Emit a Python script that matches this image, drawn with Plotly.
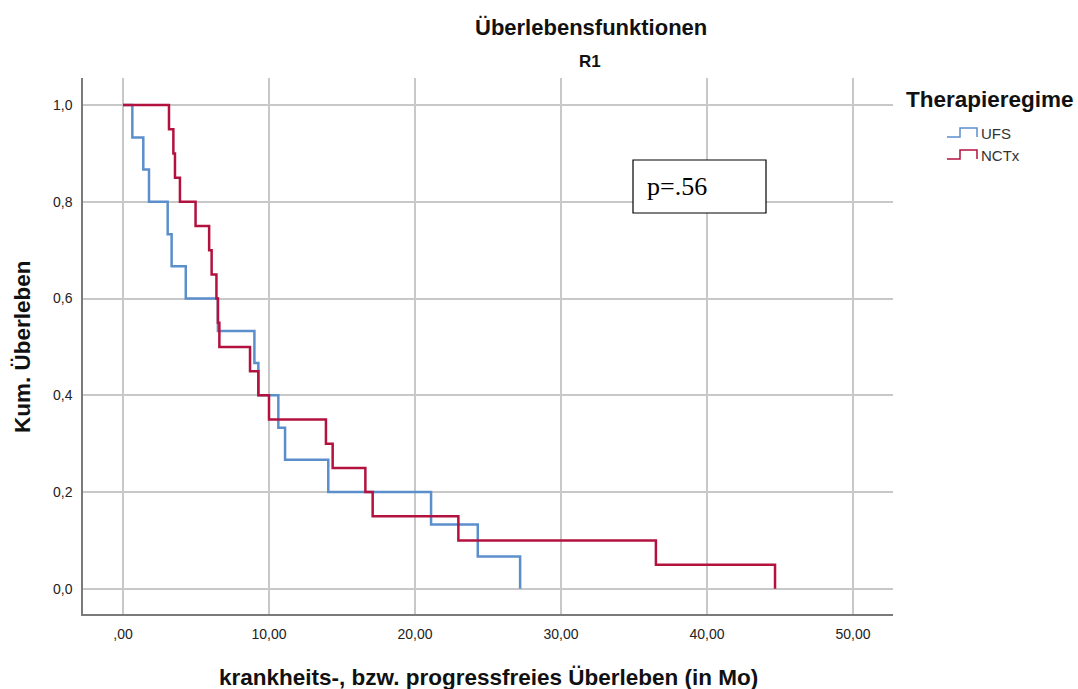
import plotly.graph_objects as go

# Kaplan-Meier estimates per treatment group (time in months, cumulative survival)
ufs_time = [0.0, 0.64, 1.39, 1.78, 3.06, 3.33, 4.3, 6.5, 9.0, 9.27, 10.64, 11.1, 14.06, 21.1, 24.3, 27.2]
ufs_surv = [1.0, 0.933, 0.867, 0.8, 0.733, 0.667, 0.6, 0.533, 0.467, 0.4, 0.333, 0.267, 0.2, 0.133, 0.067, 0.0]

nctx_time = [0.0, 3.15, 3.45, 3.56, 3.9, 4.97, 5.9, 6.07, 6.4, 6.5, 6.6, 8.7, 9.27, 10.0, 13.9, 14.36,
             16.6, 17.1, 22.97, 36.5, 44.66]
nctx_surv = [1.0, 0.95, 0.9, 0.85, 0.8, 0.75, 0.7, 0.65, 0.6, 0.55, 0.5, 0.45, 0.4, 0.35, 0.3, 0.25,
             0.2, 0.15, 0.1, 0.05, 0.0]

x_ticks = [0, 10, 20, 30, 40, 50]
x_ticklabels = [",00", "10,00", "20,00", "30,00", "40,00", "50,00"]
y_ticks = [0.0, 0.2, 0.4, 0.6, 0.8, 1.0]
y_ticklabels = ["0,0", "0,2", "0,4", "0,6", "0,8", "1,0"]

groups = ["UFS", "NCTx"]
colors = ["#5b8fcb", "#b3123f"]
p_text = "p=.56"

W, H = 1078, 689
L, R, T, B = 83, 185, 78, 75
PW, PH = W - L - R, H - T - B


def px(x):
    return (x - L) / PW


def py(y):
    return (H - B - y) / PH


SANS = "Liberation Sans, Arial, sans-serif"

fig = go.Figure()
fig.add_trace(go.Scatter(x=ufs_time, y=ufs_surv, mode="lines", line=dict(shape="hv", color=colors[0], width=2.5),
                         name=groups[0], showlegend=False))
fig.add_trace(go.Scatter(x=nctx_time, y=nctx_surv, mode="lines", line=dict(shape="hv", color=colors[1], width=2.5),
                         name=groups[1], showlegend=False))

fig.update_xaxes(range=[-2.74, 52.74], tickvals=x_ticks, ticktext=x_ticklabels, showgrid=True,
                 gridcolor="#c8c8c8", gridwidth=1.5, zeroline=False, showline=True, linecolor="#7a7a7a",
                 linewidth=1.5, ticks="", ticklabelstandoff=6,
                 tickfont=dict(family=SANS, size=14, color="#222"))
fig.update_yaxes(range=[-0.052, 1.056], tickvals=y_ticks, ticktext=y_ticklabels, showgrid=True,
                 gridcolor="#c8c8c8", gridwidth=1.5, zeroline=False, showline=True, linecolor="#7a7a7a",
                 linewidth=1.5, ticks="", ticklabelstandoff=6,
                 tickfont=dict(family=SANS, size=14, color="#222"))

annotations = [
    dict(text="<b>Überlebensfunktionen</b>", x=px(591), y=py(28), font=dict(family=SANS, size=22, color="#111"),
         xanchor="center", yanchor="middle"),
    dict(text="<b>R1</b>", x=px(590), y=py(62), font=dict(family=SANS, size=17, color="#111"),
         xanchor="center", yanchor="middle"),
    dict(text="<b>Kum. Überleben</b>", x=px(22), y=py(347), textangle=-90,
         font=dict(family=SANS, size=22.5, color="#111"), xanchor="center", yanchor="middle"),
    dict(text="<b>krankheits-, bzw. progressfreies Überleben (in Mo)</b>", x=px(488), y=py(677),
         font=dict(family=SANS, size=22.5, color="#111"), xanchor="center", yanchor="middle"),
    dict(text="<b>Therapieregime</b>", x=px(904), y=py(100), font=dict(family=SANS, size=22.5, color="#111"),
         xanchor="left", yanchor="middle"),
    dict(text=groups[0], x=px(979), y=py(133), font=dict(family=SANS, size=15, color="#333"),
         xanchor="left", yanchor="middle"),
    dict(text=groups[1], x=px(979), y=py(155), font=dict(family=SANS, size=15, color="#333"),
         xanchor="left", yanchor="middle"),
    dict(text=p_text, x=px(645), y=py(187), font=dict(family="Liberation Serif, Times New Roman, serif",
                                                         size=26, color="#000"),
         xanchor="left", yanchor="middle"),
]
for a in annotations:
    a.update(xref="paper", yref="paper", showarrow=False)

shapes = [
    dict(type="rect", xref="paper", yref="paper", x0=px(633), x1=px(766), y0=py(213), y1=py(160),
         line=dict(color="#000", width=1.2), fillcolor="white", layer="above"),
]
# small step icons next to legend labels
for i, yc in enumerate([133, 155]):
    lo, hi = yc + 4, yc - 5
    path = (f"M {px(947)},{py(lo)} L {px(960)},{py(lo)} L {px(960)},{py(hi)} "
            f"L {px(977)},{py(hi)} L {px(977)},{py(lo)}")
    shapes.append(dict(type="path", xref="paper", yref="paper", path=path,
                       line=dict(color=colors[i], width=1.5)))

fig.update_layout(
    width=W, height=H, margin=dict(l=L, r=R, t=T, b=B, autoexpand=False),
    paper_bgcolor="white", plot_bgcolor="white",
    annotations=annotations, shapes=shapes, showlegend=False,
)

fig.write_html("out.html")
